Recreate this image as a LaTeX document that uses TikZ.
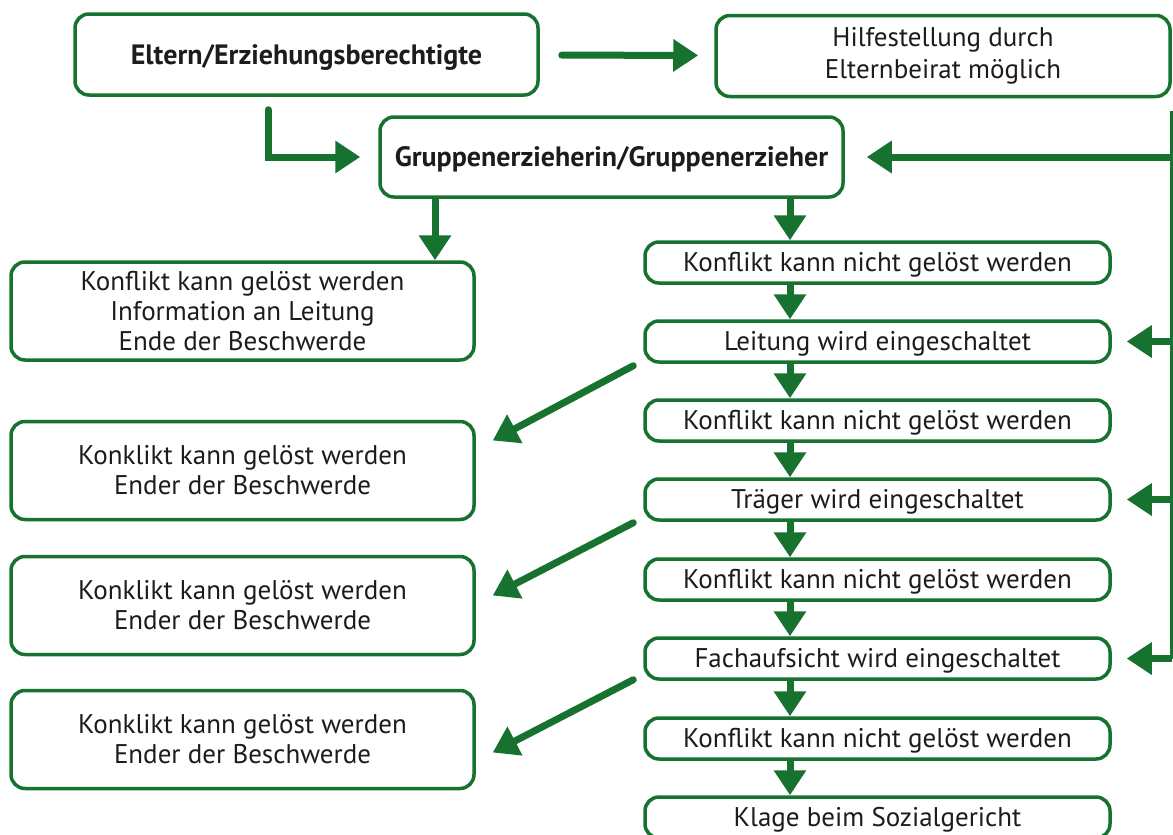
\documentclass[tikz,border=0pt]{standalone}
\usepackage{fontspec}
\setmainfont{PT Sans}
\usetikzlibrary{arrows.meta,calc}
\definecolor{grn}{RGB}{22,114,46}
\definecolor{txt}{RGB}{28,28,28}
\begin{document}
\begin{tikzpicture}[x=1pt,y=-1pt,
  box/.style={draw=grn, line width=3.5pt, rounded corners=14pt, fill=white, text=txt,
    align=center, inner sep=0pt, font=\fontsize{27}{30}\selectfont},
  bigbox/.style={box, minimum width=463pt, minimum height=98pt},
  colbox/.style={box, minimum width=465pt, minimum height=41pt, text depth=1pt},
  bold/.style={font=\fontsize{28}{30}\selectfont\bfseries, text depth=0pt},
  arr/.style={draw=grn, line width=7pt, line cap=round, -{Triangle[length=25pt,width=31pt]}},
  thin/.style={draw=grn, line width=4pt}]
\useasboundingbox (0,0) rectangle (1173,835);
\fill[white] (0,0) rectangle (1173,835);

% top row
\node[box, bold, minimum width=463pt, minimum height=81pt] (eltern) at (306.5,54.5) {Eltern/Erziehungsberechtigte};
\node[box, font=\fontsize{27}{32}\selectfont, minimum width=454pt, minimum height=81pt] (hilfe) at (943,56) {Hilfestellung durch\\Elternbeirat möglich};
\node[box, bold, minimum width=463pt, minimum height=80pt] (gruppe) at (611.5,157) {Gruppenerzieherin/Gruppenerzieher};

% left column
\node[bigbox] (l1) at (242.5,311) {Konflikt kann gelöst werden\\Information an Leitung\\Ende der Beschwerde};
\node[bigbox] (l2) at (242.5,470.5) {Konklikt kann gelöst werden\\Ender der Beschwerde};
\node[bigbox] (l3) at (242.5,605.5) {Konklikt kann gelöst werden\\Ender der Beschwerde};
\node[bigbox] (l4) at (242.5,739.5) {Konklikt kann gelöst werden\\Ender der Beschwerde};

% right column
\node[colbox] (k1) at (877.5,262.5) {Konflikt kann nicht gelöst werden};
\node[colbox] (leit) at (877.5,341.5) {Leitung wird eingeschaltet};
\node[colbox] (k2) at (877.5,420.5) {Konflikt kann nicht gelöst werden};
\node[colbox] (traeger) at (877.5,499.5) {Träger wird eingeschaltet};
\node[colbox] (k3) at (877.5,579.5) {Konflikt kann nicht gelöst werden};
\node[colbox] (fach) at (877.5,658.5) {Fachaufsicht wird eingeschaltet};
\node[colbox] (k4) at (877.5,738.5) {Konflikt kann nicht gelöst werden};
\node[colbox] (klage) at (877.5,817.5) {Klage beim Sozialgericht};

% helper coordinates
\coordinate (cx) at (790,0);
\coordinate (lx) at (435,0);
\coordinate (ex) at (268,0);
\coordinate (rtop) at ($(hilfe.south east)+(0,13)$);
\coordinate (rbot) at (rtop |- fach);
\coordinate (estart) at ($(eltern.south -| ex)+(0,13)$);
\coordinate (ecorner) at (estart |- gruppe);

% connectors
\draw[arr, shorten <=22pt, shorten >=16pt] (eltern) -- (hilfe);
\draw[arr] (estart) -- (ecorner) -- ([xshift=-18pt]gruppe.west);
\draw[arr, line cap=butt] (gruppe.south -| lx) -- (l1.north -| lx);
\draw[arr, line cap=butt] (gruppe.south -| cx) -- (k1.north -| cx);
\draw[arr, line cap=butt] (k1.south -| cx) -- (leit.north -| cx);
\draw[arr, line cap=butt] (leit.south -| cx) -- (k2.north -| cx);
\draw[arr, line cap=butt] (k2.south -| cx) -- (traeger.north -| cx);
\draw[arr, line cap=butt] (traeger.south -| cx) -- (k3.north -| cx);
\draw[arr, line cap=butt] (k3.south -| cx) -- (fach.north -| cx);
\draw[arr, line cap=butt] (fach.south -| cx) -- (k4.north -| cx);
\draw[arr, line cap=butt] (k4.south -| cx) -- (klage.north -| cx);

% right feedback line
\draw[thin] (rtop) -- (rbot);
\draw[arr, line cap=butt] (rtop |- gruppe) -- ([xshift=22pt]gruppe.east);
\draw[arr, line cap=butt] (rtop |- leit) -- ([xshift=15pt]leit.east);
\draw[arr, line cap=butt] (rtop |- traeger) -- ([xshift=15pt]traeger.east);
\draw[arr, line cap=butt] (rbot) -- ([xshift=15pt]fach.east);

% diagonal arrows
\draw[arr] ($(leit.south west)+(-10,2)$) -- ($(l2.east)+(17,-30)$);
\draw[arr] ($(traeger.south west)+(-10,1)$) -- ($(l3.east)+(17,-10)$);
\draw[arr] ($(fach.south west)+(-10,-1)$) -- ($(l4.east)+(17,13)$);
\end{tikzpicture}
\end{document}
